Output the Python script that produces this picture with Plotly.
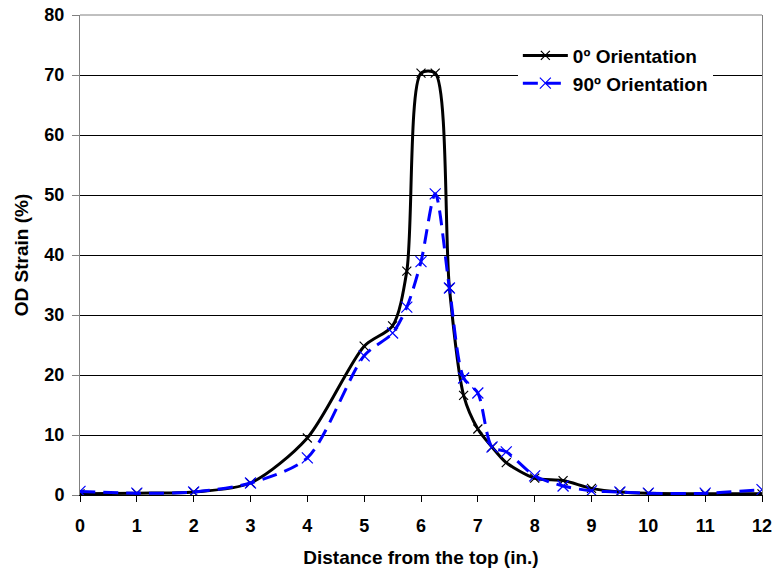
import plotly.graph_objects as go

x0 = [0, 1, 2, 3, 4, 5, 5.5, 5.75, 6, 6.25, 6.5, 6.75, 7, 7.25, 7.5, 8, 8.5, 9, 9.5, 10, 11, 12]
y0 = [0.2, 0.3, 0.5, 2.0, 9.5, 24.8, 28.2, 37.3, 70.3, 70.3, 34.5, 16.6, 11.0, 8.0, 5.4, 2.8, 2.4, 1.1, 0.5, 0.3, 0.2, 0.2]

x90 = [0, 1, 2, 3, 4, 5, 5.5, 5.75, 6, 6.25, 6.5, 6.75, 7, 7.25, 7.5, 8, 8.5, 9, 9.5, 10, 11, 12]
y90 = [0.6, 0.3, 0.5, 2.0, 6.2, 23.2, 27.0, 31.3, 38.9, 50.2, 34.5, 19.5, 17.0, 8.0, 7.2, 3.2, 1.5, 0.7, 0.5, 0.3, 0.3, 0.9]

x_ticks = list(range(0, 13))
y_ticks = list(range(0, 90, 10))

font = "Liberation Sans, Arial, sans-serif"

fig = go.Figure()
fig.add_trace(go.Scatter(
    x=x0, y=y0, name="0º Orientation", mode="lines+markers",
    line=dict(color="black", width=3, shape="spline", smoothing=0.8),
    marker=dict(symbol="x-thin", size=9, line=dict(color="black", width=1.2), color="black"),
))
fig.add_trace(go.Scatter(
    x=x90, y=y90, name="90º Orientation", mode="lines+markers",
    line=dict(color="#0000ff", width=3, dash="15px,8px", shape="spline", smoothing=0.8),
    marker=dict(symbol="x-thin", size=11, line=dict(color="#0000ff", width=1.2), color="#0000ff"),
))

fig.update_layout(
    width=777, height=575,
    margin=dict(l=80, r=15, t=15, b=80),
    plot_bgcolor="white", paper_bgcolor="white",
    font=dict(family=font, size=18, color="black"),
    showlegend=True,
    legend=dict(
        x=0.642, y=0.955, xanchor="left", yanchor="top",
        bgcolor="white", borderwidth=0, itemwidth=45,
        font=dict(family=font, size=19, color="black", weight="bold"),
        tracegroupgap=0,
    ),
    xaxis=dict(
        range=[0, 12], tickvals=x_ticks, ticktext=[str(v) for v in x_ticks],
        showgrid=False, zeroline=False, automargin=False,
        showline=True, linecolor="black", linewidth=1,
        ticks="outside", ticklen=6, tickcolor="black", ticklabelstandoff=8,
        tickfont=dict(family=font, size=18, weight="bold"),
        title=dict(text="Distance from the top (in.)", font=dict(family=font, size=19, weight="bold"), standoff=16),
    ),
    yaxis=dict(
        range=[0, 80], tickvals=y_ticks, ticktext=[str(v) for v in y_ticks],
        showgrid=True, gridcolor="black", gridwidth=1, zeroline=False, automargin=False,
        showline=True, linecolor="#808080", linewidth=1, mirror=True,
        ticks="outside", ticklen=7, tickcolor="#808080", ticklabelstandoff=4,
        tickfont=dict(family=font, size=18, weight="bold"),
        title=dict(text="OD Strain (%)", font=dict(family=font, size=19, weight="bold"), standoff=10),
    ),
)
fig.add_shape(type="line", xref="paper", yref="paper", x0=0, x1=1, y0=1, y1=1,
              line=dict(color="#808080", width=1), layer="above")

fig.write_html("out.html", config={"displayModeBar": False},
               post_script="document.body.style.margin='0';")
